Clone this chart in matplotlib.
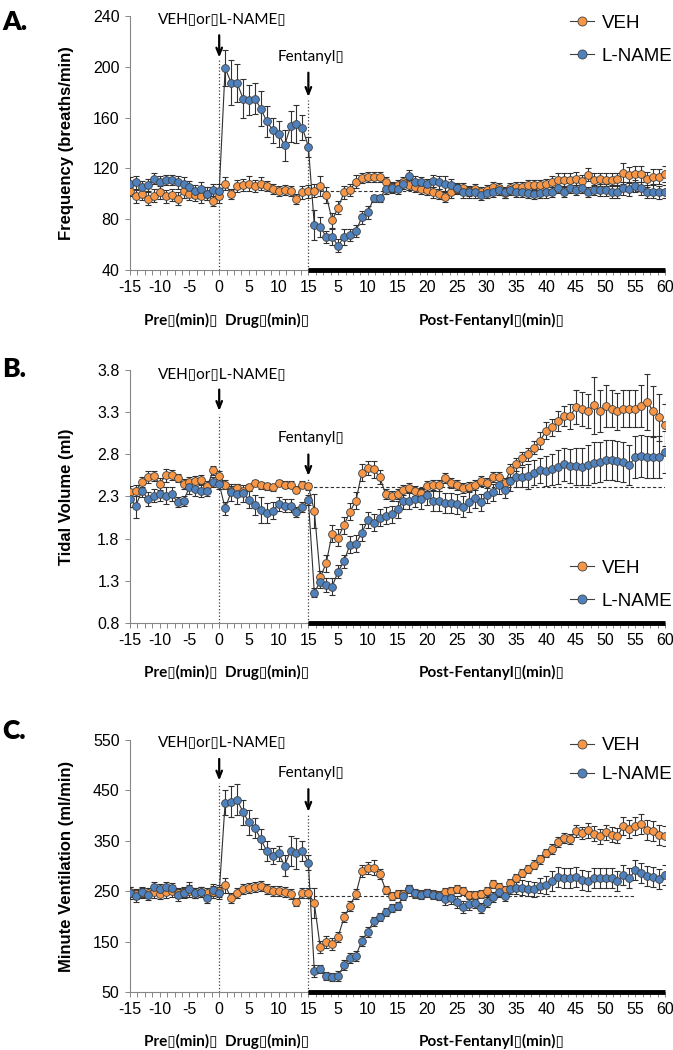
import numpy as np
import matplotlib.pyplot as plt
from matplotlib.lines import Line2D
from matplotlib.ticker import FixedLocator

plt.rcParams['font.family'] = ['Liberation Sans', 'DejaVu Sans']

# time axis: pre (-15..0), drug (1..15), post-fentanyl (1..60, drawn after 15)
pre_min = list(range(-15, 1))
drug_min = list(range(1, 16))
post_min = list(range(1, 61))
x = np.array(pre_min + drug_min + [15 + t for t in post_min])

xtick_pos = list(range(-15, 80, 5))
xtick_lab = ['-15', '-10', '-5', '0', '5', '10', '15', '5', '10', '15', '20', '25',
             '30', '35', '40', '45', '50', '55', '60']

# ---- A. Frequency ----
freq_veh = [102, 98, 100, 96, 98.5, 101, 98, 99, 96, 102, 100, 99, 98, 100, 94, 98,
            108, 100, 106, 107, 108, 106, 108, 106, 104, 102, 103, 102, 96, 101, 102,
            102.5, 106, 99, 79, 89, 101, 103, 109.5, 112.7, 113.5,
            113.5, 113.5, 109, 105.6, 107, 109, 107, 105.6, 104, 103,
            101, 100, 97.7, 101, 104, 104.8, 102, 103.5, 101.7, 103,
            105.6, 104.3, 100.4, 104.3, 105.6, 105.6, 107, 107, 107, 107.7,
            109, 111, 111, 111, 112, 110, 115, 111, 111.4, 111,
            111, 111.4, 116, 115, 115.6, 115.6, 111.4, 113.5, 113.5, 115.6]
freq_veh_err = [4, 5, 5, 5, 5, 5, 5, 5, 5, 5, 5, 5, 5, 5, 4, 5,
                5, 4, 5, 5, 6, 5, 5, 4, 4, 4, 4, 4, 4, 5, 5,
                5, 8, 6, 6, 5, 5, 5, 5, 4, 4,
                4, 4, 4, 4, 4, 4, 4, 4, 4, 4,
                4, 4, 4, 4, 4, 4, 4, 4, 4, 4,
                4, 4, 4, 4, 4, 4, 4, 4, 4, 4,
                5, 5, 5, 5, 5, 5, 5, 5, 5, 5,
                5, 5, 8, 6, 6, 6, 6, 6, 6, 6]
freq_lname = [108, 109, 105, 107, 112, 109, 111, 111, 109, 108, 105, 102, 104, 100, 103, 102,
              199, 187.5, 187.5, 175, 174, 175, 167, 157, 150, 147, 138, 153, 155, 152, 137,
              75.4, 74, 66, 66, 59, 66, 67.6, 70.7, 81.5, 85.4,
              96.4, 96.4, 103.5, 104.3, 103.5, 108, 114, 109.6, 109, 108,
              110, 109, 108, 107, 104.3, 101, 101, 101, 99, 100.4,
              101.7, 103, 101, 103, 101.7, 101.7, 100.4, 99.6, 100.4, 101,
              101.7, 104.3, 101.7, 104.3, 103, 104.3, 101.7, 103, 103, 103,
              101.7, 101.7, 104.3, 103.5, 106, 104.3, 101.7, 101.7, 101, 101.7]
freq_lname_err = [5, 5, 5, 5, 4, 5, 4, 4, 5, 5, 5, 5, 5, 5, 5, 6,
                  14, 18, 15, 15, 12, 12, 14, 12, 10, 10, 12, 12, 15, 10, 8,
                  12, 8, 5, 6, 5, 6, 5, 5, 5, 5,
                  3, 3, 4, 4, 4, 4, 5, 4, 4, 4,
                  5, 5, 6, 5, 4, 4, 4, 4, 4, 4,
                  4, 4, 4, 4, 4, 4, 4, 4, 4, 4,
                  4, 4, 4, 4, 4, 4, 4, 4, 5, 5,
                  5, 5, 5, 5, 5, 5, 5, 5, 5, 5]

# ---- B. Tidal volume ----
tv_veh = [2.35, 2.37, 2.47, 2.53, 2.54, 2.45, 2.55, 2.55, 2.52, 2.45, 2.47, 2.48, 2.49, 2.42, 2.61, 2.54,
          2.44, 2.37, 2.40, 2.36, 2.41, 2.46, 2.43, 2.42, 2.41, 2.46, 2.44, 2.44, 2.38, 2.44, 2.42,
          2.13, 1.34, 1.51, 1.86, 1.81, 1.96, 2.12, 2.25, 2.58, 2.64,
          2.62, 2.53, 2.33, 2.31, 2.33, 2.38, 2.40, 2.36, 2.34, 2.42,
          2.44, 2.43, 2.52, 2.46, 2.44, 2.40, 2.41, 2.44, 2.48, 2.46,
          2.53, 2.53, 2.46, 2.61, 2.68, 2.75, 2.80, 2.88, 2.96, 3.08,
          3.12, 3.19, 3.25, 3.25, 3.36, 3.34, 3.31, 3.38, 3.31, 3.37,
          3.34, 3.31, 3.34, 3.34, 3.34, 3.37, 3.42, 3.31, 3.24, 3.15]
tv_veh_err = [0.07, 0.07, 0.06, 0.07, 0.06, 0.07, 0.08, 0.06, 0.05, 0.06, 0.06, 0.06, 0.06, 0.06, 0.05, 0.06,
              0.05, 0.05, 0.05, 0.04, 0.04, 0.04, 0.04, 0.04, 0.04, 0.04, 0.04, 0.04, 0.04, 0.04, 0.04,
              0.2, 0.08, 0.1, 0.1, 0.1, 0.1, 0.1, 0.1, 0.1, 0.08,
              0.1, 0.08, 0.06, 0.06, 0.06, 0.06, 0.06, 0.06, 0.06, 0.06,
              0.06, 0.06, 0.06, 0.06, 0.06, 0.06, 0.06, 0.06, 0.06, 0.06,
              0.06, 0.06, 0.06, 0.08, 0.08, 0.08, 0.08, 0.08, 0.1, 0.1,
              0.1, 0.12, 0.12, 0.15, 0.2, 0.2, 0.2, 0.34, 0.25, 0.25,
              0.22, 0.22, 0.22, 0.22, 0.22, 0.25, 0.33, 0.3, 0.28, 0.25]
tv_lname = [2.27, 2.19, 2.37, 2.27, 2.31, 2.33, 2.31, 2.33, 2.23, 2.25, 2.41, 2.39, 2.37, 2.37, 2.47, 2.45,
            2.16, 2.35, 2.33, 2.34, 2.26, 2.20, 2.14, 2.10, 2.13, 2.21, 2.19, 2.19, 2.12, 2.17, 2.26,
            1.16, 1.29, 1.25, 1.23, 1.41, 1.53, 1.73, 1.74, 1.87, 2.02,
            1.99, 2.05, 2.07, 2.09, 2.15, 2.25, 2.25, 2.27, 2.27, 2.32,
            2.25, 2.25, 2.22, 2.22, 2.21, 2.18, 2.24, 2.28, 2.23, 2.32,
            2.35, 2.43, 2.38, 2.48, 2.53, 2.53, 2.54, 2.58, 2.61, 2.60,
            2.62, 2.65, 2.68, 2.66, 2.66, 2.65, 2.67, 2.70, 2.71, 2.73,
            2.73, 2.72, 2.71, 2.67, 2.77, 2.78, 2.77, 2.77, 2.77, 2.83]
tv_lname_err = [0.1, 0.15, 0.08, 0.08, 0.08, 0.08, 0.1, 0.08, 0.06, 0.06, 0.08, 0.08, 0.08, 0.06, 0.06, 0.06,
                0.08, 0.1, 0.12, 0.1, 0.1, 0.12, 0.15, 0.12, 0.1, 0.08, 0.08, 0.08, 0.06, 0.06, 0.06,
                0.05, 0.08, 0.08, 0.1, 0.08, 0.08, 0.1, 0.1, 0.1, 0.1,
                0.1, 0.1, 0.1, 0.1, 0.1, 0.1, 0.1, 0.1, 0.12, 0.12,
                0.12, 0.12, 0.12, 0.12, 0.12, 0.12, 0.12, 0.12, 0.1, 0.1,
                0.1, 0.1, 0.1, 0.12, 0.12, 0.12, 0.15, 0.15, 0.15, 0.18,
                0.18, 0.2, 0.2, 0.2, 0.22, 0.22, 0.24, 0.24, 0.24, 0.24,
                0.24, 0.24, 0.24, 0.24, 0.25, 0.25, 0.25, 0.25, 0.25, 0.25]

# ---- C. Minute ventilation ----
mv_veh = [249, 245, 246, 246, 249, 245, 249, 251, 246, 248, 251, 246, 249, 246, 248, 251,
          262, 236, 247, 254, 257, 259, 260, 255, 251, 251, 249, 244, 228, 246, 246,
          226, 139, 150, 145, 160, 198, 221, 245, 290, 297,
          297, 285, 253, 241, 244, 244, 254, 244, 244, 247,
          244, 242, 249, 251, 255, 251, 242, 242, 244, 251,
          264, 259, 252, 267, 277, 287, 295, 303, 313, 325,
          333, 347, 356, 354, 370, 366, 371, 364, 359, 367,
          362, 360, 379, 374, 380, 384, 372, 369, 362, 360]
mv_veh_err = [10, 10, 10, 10, 12, 10, 12, 12, 10, 10, 12, 10, 10, 10, 12, 12,
              15, 10, 10, 10, 10, 10, 10, 10, 10, 10, 10, 10, 8, 10, 10,
              30, 12, 12, 12, 10, 10, 10, 10, 12, 12,
              15, 10, 8, 8, 8, 8, 8, 8, 8, 8,
              8, 8, 8, 8, 8, 8, 8, 8, 8, 8,
              8, 8, 8, 8, 8, 8, 8, 8, 8, 8,
              10, 10, 10, 10, 12, 12, 15, 15, 15, 15,
              15, 15, 18, 18, 18, 20, 20, 20, 20, 20]
mv_lname = [247, 240, 249, 242, 259, 255, 259, 257, 242, 247, 254, 246, 249, 236, 253, 247,
            426, 428, 432, 407, 387, 376, 353, 330, 320, 325, 301, 330, 325, 330, 307,
            91, 95, 82, 80, 82, 103, 117, 122, 152, 170,
            190, 198, 209, 216, 221, 241, 255, 246, 242, 247,
            242, 241, 234, 236, 228, 218, 224, 226, 216, 228,
            238, 249, 240, 254, 257, 257, 255, 254, 261, 262,
            270, 279, 277, 277, 279, 272, 270, 276, 277, 277,
            276, 270, 282, 276, 292, 287, 280, 279, 274, 282]
mv_lname_err = [12, 12, 10, 10, 10, 10, 10, 10, 12, 10, 15, 10, 10, 10, 12, 12,
                25, 30, 30, 25, 25, 20, 20, 20, 15, 15, 20, 30, 30, 20, 15,
                12, 8, 8, 8, 10, 10, 10, 10, 10, 10,
                8, 8, 8, 8, 8, 8, 8, 8, 8, 8,
                8, 8, 12, 12, 12, 12, 12, 10, 10, 10,
                10, 10, 10, 10, 12, 15, 15, 15, 15, 18,
                20, 20, 20, 20, 20, 20, 20, 20, 20, 20,
                20, 20, 20, 20, 20, 20, 20, 20, 20, 20]

veh_color = '#F79646'
lname_color = '#4F81BD'
edge = '#404040'
axis_gray = '#868686'
ann_font = ['Lato', 'DejaVu Sans']
box = '\u25af'

panels = [
    dict(letter='A.', ylabel='Frequency (breaths/min)', veh=freq_veh, veh_err=freq_veh_err,
         lname=freq_lname, lname_err=freq_lname_err, ylim=(40, 240), yticks=np.arange(40, 241, 40),
         fmt='{:.0f}', base=102, base_end=75, veh_txt=237.5, veh_arrow=(227, 205),
         fen_txt=207.5, fen_arrow=(197.5, 174), rect=[0.1932, 0.7429, 0.795, 0.2419],
         leg=(0.822, 1.005), leg_sp=0.85, letter_y=0.99),
    dict(letter='B.', ylabel='Tidal Volume (ml)', veh=tv_veh, veh_err=tv_veh_err,
         lname=tv_lname, lname_err=tv_lname_err, ylim=(0.8, 3.8), yticks=np.arange(0.8, 3.81, 0.5),
         fmt='{:.1f}', base=2.41, base_end=75, veh_txt=3.75, veh_arrow=(3.60, 3.28),
         fen_txt=2.99, fen_arrow=(2.83, 2.51), rect=[0.1932, 0.4067, 0.795, 0.2410],
         leg=(0.822, 0.25), leg_sp=0.85, letter_y=0.66),
    dict(letter='C.', ylabel='Minute Ventilation (ml/min)', veh=mv_veh, veh_err=mv_veh_err,
         lname=mv_lname, lname_err=mv_lname_err, ylim=(50, 550), yticks=np.arange(50, 551, 100),
         fmt='{:.0f}', base=241, base_end=70, veh_txt=545, veh_arrow=(518, 464),
         fen_txt=485, fen_arrow=(458, 402), rect=[0.1932, 0.0552, 0.795, 0.2400],
         leg=(0.822, 1.012), leg_sp=0.65, letter_y=0.315),
]

fig = plt.figure(figsize=(6.73, 10.5), dpi=100)

for p in panels:
    ax = fig.add_axes(p['rect'])
    y0, y1 = p['ylim']

    for yy, ee, col in [(p['veh'], p['veh_err'], veh_color), (p['lname'], p['lname_err'], lname_color)]:
        ax.plot(x, yy, '-', color='#303030', lw=0.8, zorder=3)
        ax.errorbar(x, yy, yerr=ee, fmt='none', ecolor='#303030', elinewidth=0.8,
                    capsize=2, capthick=0.8, zorder=3)
        ax.plot(x, yy, 'o', ms=5.6, mfc=col, mec=edge, mew=0.6, zorder=4)

    # baseline and event markers
    ax.hlines(p['base'], 15, p['base_end'], colors='#303030', linestyles=(0, (3, 2)), lw=0.8, zorder=2)
    ax.plot([0, 0], [y0, p['veh_arrow'][1]], ls=':', color='#404040', lw=0.9, zorder=2)
    ax.plot([15, 15], [y0, p['fen_arrow'][1]], ls=':', color='#404040', lw=0.9, zorder=2)
    for xa, (ya, yb) in [(0, p['veh_arrow']), (15, p['fen_arrow'])]:
        ax.annotate('', xy=(xa, yb), xytext=(xa, ya),
                    arrowprops=dict(arrowstyle='->,head_length=0.5,head_width=0.2', color='k', lw=1.6))
    ax.text(0.6, p['veh_txt'], 'VEH' + box + 'or' + box + 'L-NAME' + box, ha='center', va='center',
            fontsize=11, family=ann_font)
    ax.text(15.5, p['fen_txt'], 'Fentanyl' + box, ha='center', va='center', fontsize=11, family=ann_font)

    # post-fentanyl bar on the x axis
    ax.plot([15, 75], [y0, y0], color='k', lw=3.5, solid_capstyle='butt', clip_on=False, zorder=5)

    ax.set_xlim(-15, 75)
    ax.set_ylim(y0, y1)
    ax.set_xticks(xtick_pos)
    ax.set_xticklabels(xtick_lab)
    ax.xaxis.set_minor_locator(FixedLocator(np.arange(-15, 75.01, 1.25)))
    ax.set_yticks(p['yticks'])
    ax.set_yticklabels([p['fmt'].format(v) for v in p['yticks']])
    ax.tick_params(axis='both', which='both', direction='out', length=3.5, width=0.7,
                   color=axis_gray, labelsize=11.5, pad=4)
    for s in ['top', 'right']:
        ax.spines[s].set_visible(False)
    for s in ['left', 'bottom']:
        ax.spines[s].set_color(axis_gray)
        ax.spines[s].set_linewidth(0.8)

    ax.set_ylabel(p['ylabel'], fontsize=12, fontweight='bold')
    ax.yaxis.set_label_coords(-0.105, 0.5)

    ax.text(1.2, -0.197, 'Pre' + box + '(min)' + box + '  Drug' + box + '(min)' + box,
            transform=ax.get_xaxis_transform(), ha='center', va='center',
            fontsize=11, fontweight='bold', family=ann_font)
    ax.text(45.9, -0.197, 'Post-Fentanyl' + box + '(min)' + box,
            transform=ax.get_xaxis_transform(), ha='center', va='center',
            fontsize=11, fontweight='bold', family=ann_font)

    handles = [Line2D([], [], color='#404040', lw=0.8, marker='o', ms=6.5, mfc=veh_color, mec=edge, mew=0.6),
               Line2D([], [], color='#404040', lw=0.8, marker='o', ms=6.5, mfc=lname_color, mec=edge, mew=0.6)]
    ax.legend(handles, ['VEH', 'L-NAME'], loc='upper left', bbox_to_anchor=p['leg'], frameon=False,
              fontsize=13.5, handlelength=1.3, handletextpad=0.4, borderpad=0, borderaxespad=0,
              labelspacing=p['leg_sp'])

    fig.text(0.003, p['letter_y'], p['letter'], fontsize=19, fontweight='heavy', family=ann_font,
             ha='left', va='top')

fig.savefig('out.png', dpi=100)
